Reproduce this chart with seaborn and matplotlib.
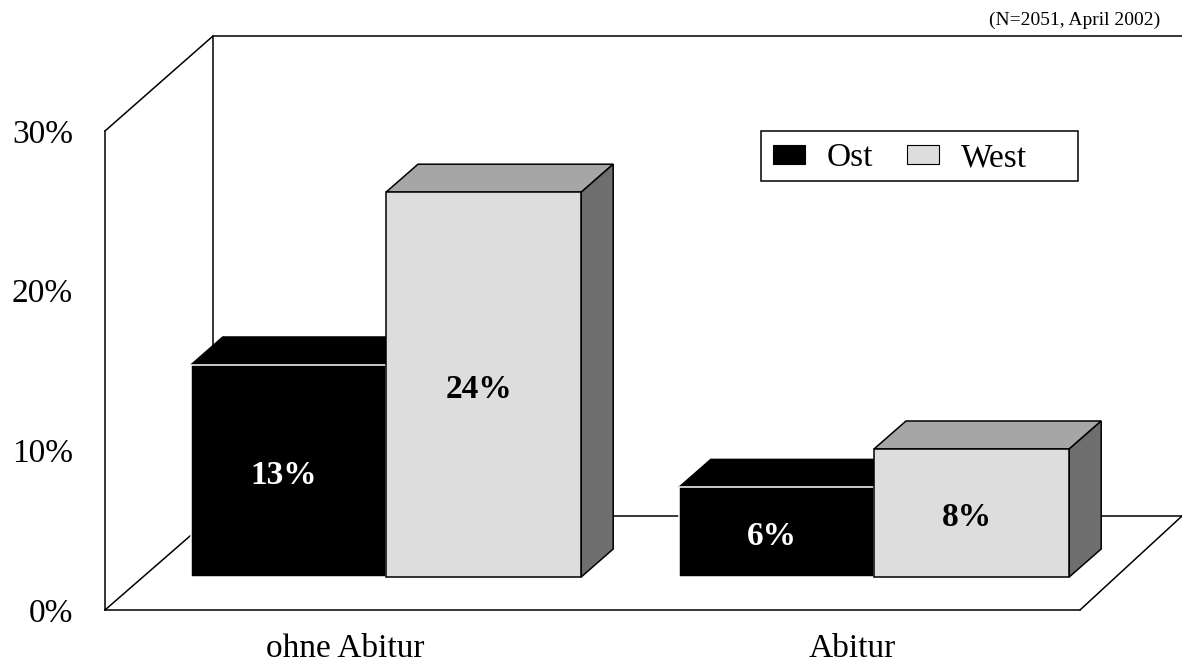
import pandas as pd
import matplotlib.pyplot as plt
from matplotlib.transforms import Affine2D
import seaborn as sns

# values
groups = ['ohne Abitur', 'Abitur']
ost_values = [13.25, 5.6]
west_values = [24.05, 8.0]
ost_labels = ['13%', '6%']
west_labels = ['24%', '8%']
y_ticks = [0, 10, 20, 30]
y_tick_labels = ['0%', '10%', '20%', '30%']

W, H = 1182, 662
df = pd.DataFrame({
    'gruppe': groups * 2,
    'region': ['Ost'] * 2 + ['West'] * 2,
    'wert': ost_values + west_values,
})

sns.set_theme(style='white')
plt.rcParams['font.family'] = ['Liberation Serif', 'DejaVu Sans']
plt.rcParams['text.color'] = 'black'
plt.rcParams['xtick.color'] = 'black'
plt.rcParams['ytick.color'] = 'black'

fig = plt.figure(figsize=(W / 100, H / 100), dpi=100)
px = Affine2D().scale(1, -1).translate(0, H)  # pixel coords, y down

# frame axes: carries the 0-30% scale and the group names, front edges of the box
frame = fig.add_axes([105 / W, 1 - 610 / H, (1080 - 105) / W, (610 - 131) / H])
frame.set_facecolor('none')
frame.set_ylim(0, 30)
frame.set_xlim(-0.5, 1.5)
frame.set_yticks(y_ticks, y_tick_labels, fontsize=24)
frame.set_xticks([-0.008, 1.032], groups, fontsize=24)
frame.tick_params(axis='y', length=0, pad=23)
frame.tick_params(axis='x', length=0, pad=17)
for side in ['top', 'right']:
    frame.spines[side].set_visible(False)
for side in ['left', 'bottom']:
    frame.spines[side].set_color('black')
    frame.spines[side].set_linewidth(1.1)

# bar axes: whole figure, 488 px per group and 16 px per percent, zero at y=577
ax = fig.add_axes([0, 0, 1, 1])
ax.set_facecolor('none')
sns.barplot(data=df, x='gruppe', y='wert', hue='region', hue_order=['Ost', 'West'],
            palette={'Ost': '#000000', 'West': '#dddddd'}, width=0.8, saturation=1,
            ax=ax, legend=False)

# box walls and floor
wall_lines = [
    ([105, 213], [131, 36]),
    ([105, 213], [610, 516]),
    ([213, 213], [36, 516]),
    ([213, 1182], [36, 36]),
    ([213, 1182], [516, 516]),
    ([1080, 1182], [610, 516]),
]
for xs, ys in wall_lines:
    ax.plot(xs, ys, color='black', lw=1.1, transform=px, zorder=1, scalex=False, scaley=False)

# depth of the bars, taken from each bar's own rectangle
dx = 32 / 488
dy = 28 / 16
styles = {
    0: {'edge': 'white', 'top': '#000000', 'side': '#000000', 'text': 'white', 'labels': ost_labels},
    1: {'edge': 'black', 'top': '#a6a6a6', 'side': '#6e6e6e', 'text': 'black', 'labels': west_labels},
}
for i, container in enumerate(ax.containers):
    st = styles[i]
    for bar, label in zip(container, st['labels']):
        x0, w, h = bar.get_x(), bar.get_width(), bar.get_height()
        ax.fill([x0, x0 + dx, x0 + w + dx, x0 + w], [h, h + dy, h + dy, h],
                facecolor=st['top'], edgecolor='black', lw=1.1, zorder=2 + 2 * i)
        ax.fill([x0 + w, x0 + w + dx, x0 + w + dx, x0 + w], [0, dy, h + dy, h],
                facecolor=st['side'], edgecolor='black', lw=1.1, zorder=2 + 2 * i)
        bar.set_edgecolor(st['edge'])
        bar.set_linewidth(1.1)
        bar.set_zorder(3 + 2 * i)
        ax.annotate(label, xy=(x0 + w / 2, h / 2), xytext=(-3.6, -3.2), textcoords='offset points',
                    ha='center', va='center', color=st['text'], fontsize=24, fontweight='bold', zorder=8)

ax.set_xlim(-386 / 488, (W - 386) / 488)
ax.set_ylim((577 - H) / 16, 577 / 16)
ax.set_xlabel('')
ax.set_ylabel('')
ax.set_xticks([])
ax.set_yticks([])
for spine in ax.spines.values():
    spine.set_visible(False)

# legend, the box is wider than its entries so it is drawn separately
ax.add_patch(plt.Rectangle((761, 131), 317, 50, facecolor='white', edgecolor='black', lw=1.1,
                           transform=px, zorder=9))
handles = [plt.Rectangle((0, 0), 1, 1, facecolor='#000000', edgecolor='black', lw=0.8),
           plt.Rectangle((0, 0), 1, 1, facecolor='#dddddd', edgecolor='black', lw=0.8)]
leg = ax.legend(handles, ['Ost', 'West'], ncols=2, loc='upper left',
                bbox_to_anchor=(761 / W, 1 - 131 / H), bbox_transform=fig.transFigure,
                borderaxespad=0, fontsize=24, frameon=False,
                handlelength=0.96, handleheight=0.5, handletextpad=0.66,
                columnspacing=1.0, borderpad=0.36)
leg.set_zorder(10)

fig.text(1160 / W, 1 - 20 / H, '(N=2051, April 2002)', ha='right', va='center', fontsize=14, color='black')

fig.savefig('out.png', dpi=100)
